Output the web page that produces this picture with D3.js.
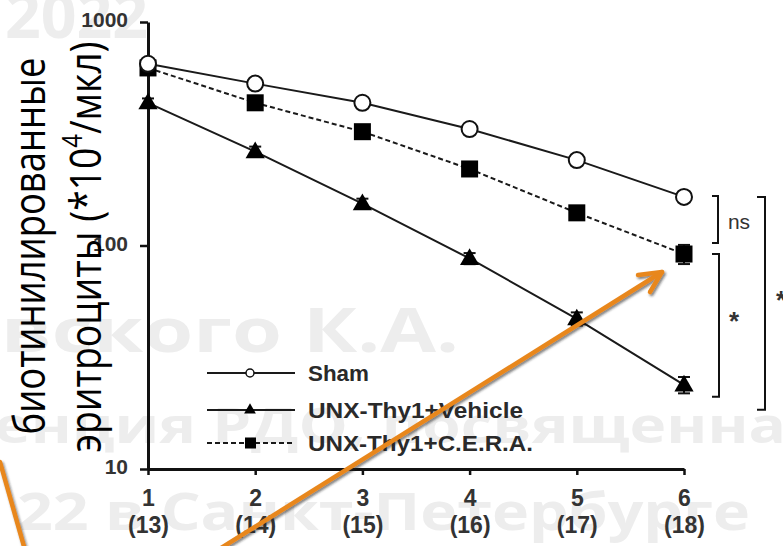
<!DOCTYPE html>
<html>
<head>
<meta charset="utf-8">
<script src="https://cdn.jsdelivr.net/npm/d3@7"></script>
<style>
  body { margin: 0; background: #fff; }
  svg { display: block; }
</style>
</head>
<body>
<div id="chart"></div>
<script>
// Data
const days = [1, 2, 3, 4, 5, 6];
const dayLabels = ["(13)", "(14)", "(15)", "(16)", "(17)", "(18)"];
const yTicks = [10, 100, 1000];
const seriesNames = ["Sham", "UNX-Thy1+Vehicle", "UNX-Thy1+C.E.R.A."];
const shamValues = [650, 530, 435, 332, 241, 165];
const vehicleValues = [435, 263, 154, 87.5, 47, 23.8];
const ceraValues = [623, 435, 323, 220, 140, 91.6];
const vehicleErrors = [20, 14, 8, 5, 3.2, 2];
const ceraErrors = [0, 0, 0, 0, 0, 9];
const compLabels = ["ns", "*", "*"];
const watermarkLines = ["2022", "вского К.А.", "енция РДО, посвященна", "22 в Санкт-Петербурге"];

const width = 783;
const height = 546;

const svg = d3.select("#chart")
  .append("svg")
  .attr("width", width)
  .attr("height", height);

const defs = svg.append("defs");
const shadow = defs.append("filter").attr("id", "shadow")
  .attr("x", "-20%").attr("y", "-20%").attr("width", "140%").attr("height", "140%");
shadow.append("feDropShadow")
  .attr("dx", 1.5).attr("dy", 2).attr("stdDeviation", 1.2)
  .attr("flood-color", "#222").attr("flood-opacity", 0.55);

// Watermark text behind the chart
const wm = [
  {x: 5, y: 38, size: 62, len: 143},
  {x: 1, y: 352, size: 60, len: 458},
  {x: -6, y: 443, size: 48, len: 792},
  {x: 17, y: 530, size: 52, len: 733}
];
svg.append("g").selectAll("text")
  .data(watermarkLines)
  .enter()
  .append("text")
  .attr("x", (d, i) => wm[i].x)
  .attr("y", (d, i) => wm[i].y)
  .attr("font-family", "'Open Sans', sans-serif")
  .attr("font-weight", "bold")
  .attr("font-size", (d, i) => wm[i].size)
  .attr("textLength", (d, i) => wm[i].len)
  .attr("lengthAdjust", "spacingAndGlyphs")
  .attr("fill", "#ededed")
  .text(d => d);

// Scales
const x = d3.scaleLinear().domain([1, 6]).range([148, 684]);
const y = d3.scaleLog().domain([10, 1000]).range([469, 22]);

// Y axis
const yAxis = svg.append("g")
  .attr("transform", "translate(148,0)")
  .call(d3.axisLeft(y).tickValues(yTicks).tickSize(8).tickSizeOuter(0).tickPadding(12)
    .tickFormat(d3.format("d")));
yAxis.select(".domain").attr("stroke-width", 3).attr("stroke", "#111");
yAxis.selectAll(".tick line").attr("stroke-width", 2.5).attr("stroke", "#111");
yAxis.selectAll(".tick text")
  .attr("font-family", "'Liberation Sans', Arial, sans-serif")
  .attr("font-weight", "bold")
  .attr("font-size", 21)
  .attr("dy", "0.22em")
  .attr("fill", "#333");

// X axis
const xAxis = svg.append("g")
  .attr("transform", "translate(0,469)")
  .call(d3.axisBottom(x).tickValues(days).tickSize(6).tickSizeOuter(0).tickFormat(""));
xAxis.select(".domain").attr("stroke-width", 3).attr("stroke", "#111");
xAxis.selectAll(".tick line").attr("stroke-width", 2.5).attr("stroke", "#111");
xAxis.selectAll(".tick text").remove();
const xLab = xAxis.selectAll(".tick")
  .append("text")
  .attr("font-family", "'Liberation Sans', Arial, sans-serif")
  .attr("font-weight", "bold")
  .attr("font-size", 23)
  .attr("fill", "#333")
  .attr("text-anchor", "middle");
xLab.append("tspan").attr("x", 0).attr("y", 37).text(d => d);
xLab.append("tspan").attr("x", 0).attr("y", 64).text((d, i) => dayLabels[i]);

// Lines
const line = d3.line().x((d, i) => x(days[i])).y(d => y(d));
const series = [
  {name: seriesNames[0], values: shamValues, dash: null},
  {name: seriesNames[1], values: vehicleValues, dash: null},
  {name: seriesNames[2], values: ceraValues, dash: "5,3"}
];
svg.append("g").selectAll("path")
  .data(series)
  .enter()
  .append("path")
  .attr("d", d => line(d.values))
  .attr("fill", "none")
  .attr("stroke", "#1a1a1a")
  .attr("stroke-width", 2)
  .attr("stroke-dasharray", d => d.dash);

// Error bars
function errorBars(values, errors) {
  const g = svg.append("g").attr("stroke", "#111").attr("stroke-width", 2);
  values.forEach((v, i) => {
    if (!errors[i]) return;
    const cx = x(days[i]);
    const y1 = y(v + errors[i]), y2 = y(v - errors[i]);
    g.append("line").attr("x1", cx).attr("x2", cx).attr("y1", y1).attr("y2", y2);
    g.append("line").attr("x1", cx - 6).attr("x2", cx + 6).attr("y1", y1).attr("y2", y1);
    g.append("line").attr("x1", cx - 6).attr("x2", cx + 6).attr("y1", y2).attr("y2", y2);
  });
}
errorBars(vehicleValues, vehicleErrors);
errorBars(ceraValues, ceraErrors);

// Markers
const triangle = d3.symbol().type(d3.symbolTriangle).size(160);
svg.append("g").selectAll("path")
  .data(vehicleValues)
  .enter()
  .append("path")
  .attr("transform", (d, i) => `translate(${x(days[i])},${y(d) + 1})`)
  .attr("d", triangle)
  .attr("fill", "#000");

svg.append("g").selectAll("rect")
  .data(ceraValues)
  .enter()
  .append("rect")
  .attr("x", (d, i) => x(days[i]) - 8.5)
  .attr("y", d => y(d) - 8.5)
  .attr("width", 17)
  .attr("height", 17)
  .attr("fill", "#000");

svg.append("g").selectAll("circle")
  .data(shamValues)
  .enter()
  .append("circle")
  .attr("cx", (d, i) => x(days[i]))
  .attr("cy", d => y(d))
  .attr("r", 8)
  .attr("fill", "#fff")
  .attr("stroke", "#111")
  .attr("stroke-width", 2);

// Legend
const legendY = [373, 410, 443];
const legendLen = [61, 215, 225];
const legend = svg.append("g").selectAll("g")
  .data(series)
  .enter()
  .append("g")
  .attr("transform", (d, i) => `translate(0,${legendY[i]})`);
legend.append("line")
  .attr("x1", 207).attr("x2", 295)
  .attr("stroke", "#1a1a1a").attr("stroke-width", 2)
  .attr("stroke-dasharray", d => d.dash);
legend.filter((d, i) => i === 0).append("circle")
  .attr("cx", 250).attr("r", 4).attr("fill", "#fff").attr("stroke", "#111").attr("stroke-width", 1.5);
legend.filter((d, i) => i === 1).append("path")
  .attr("transform", "translate(250,0)").attr("d", d3.symbol().type(d3.symbolTriangle).size(60)).attr("fill", "#000");
legend.filter((d, i) => i === 2).append("rect")
  .attr("x", 245).attr("y", -5.5).attr("width", 11).attr("height", 11).attr("fill", "#000");
legend.append("text")
  .attr("x", 308)
  .attr("dy", "0.36em")
  .attr("font-family", "'Liberation Sans', Arial, sans-serif")
  .attr("font-weight", "bold")
  .attr("font-size", 22)
  .attr("fill", "#2a2a2a")
  .attr("textLength", (d, i) => legendLen[i])
  .attr("lengthAdjust", "spacingAndGlyphs")
  .text(d => d.name);

// Significance brackets
const last = days.length - 1;
const brackets = [
  {x: 718, top: y(shamValues[last]) - 1, bottom: y(ceraValues[last]) - 11, tick: 6, lx: 739, ly: 222},
  {x: 719, top: y(ceraValues[last]), bottom: y(vehicleValues[last]) + 12, tick: 7, lx: 734, ly: 314},
  {x: 765, top: y(shamValues[last]), bottom: y(vehicleValues[last]) + 25, tick: 8, lx: 781, ly: 293}
];
const br = svg.append("g");
brackets.forEach((b, i) => {
  br.append("path")
    .attr("d", `M${b.x - b.tick},${b.top}H${b.x}V${b.bottom}H${b.x - b.tick}`)
    .attr("fill", "none").attr("stroke", "#111").attr("stroke-width", 2);
  br.append("text")
    .attr("x", b.lx)
    .attr("y", b.ly)
    .attr("text-anchor", "middle")
    .attr("dy", compLabels[i] === "*" ? "0.62em" : "0.35em")
    .attr("font-family", "'Liberation Sans', Arial, sans-serif")
    .attr("font-size", compLabels[i] === "*" ? 26 : 21)
    .attr("font-weight", compLabels[i] === "*" ? "bold" : "normal")
    .attr("fill", "#333")
    .text(compLabels[i]);
});

// Y axis title (two rotated lines)
const title = svg.append("g").attr("font-family", "'Open Sans', sans-serif").attr("font-size", 44).attr("fill", "#000");
title.append("text")
  .attr("transform", "translate(45,246) rotate(-90)")
  .attr("text-anchor", "middle")
  .attr("textLength", 377)
  .attr("lengthAdjust", "spacingAndGlyphs")
  .text("биотинилированные");
const t2 = title.append("text")
  .attr("transform", "translate(101,247) rotate(-90)")
  .attr("text-anchor", "middle")
  .attr("textLength", 411)
  .attr("lengthAdjust", "spacingAndGlyphs");
t2.append("tspan").text("эритроциты (*10");
t2.append("tspan").attr("baseline-shift", "super").attr("font-size", 28).text("4");
t2.append("tspan").text("/мкл)");

// Orange arrows
const arrows = svg.append("g").attr("filter", "url(#shadow)")
  .attr("stroke", "#e8871e").attr("stroke-width", 4.5).attr("fill", "none").attr("stroke-linecap", "round");
arrows.append("path").attr("d", "M0,462L25,550");
arrows.append("path").attr("d", "M218,550L662,272");
arrows.append("path").attr("d", "M638,275L662,272L650,292").attr("stroke-linejoin", "round");
</script>
</body>
</html>
